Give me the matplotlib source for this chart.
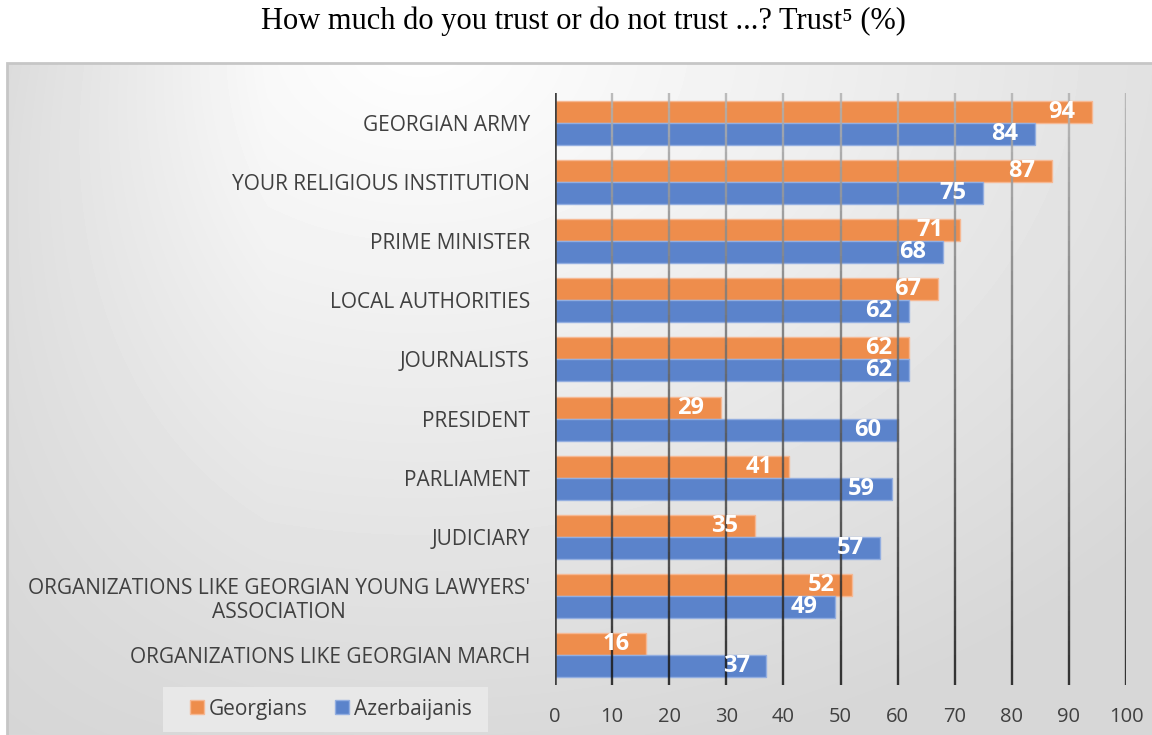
import matplotlib
matplotlib.use('Agg')
import matplotlib.pyplot as plt
import matplotlib.patches as mpatches
from matplotlib.collections import LineCollection
import matplotlib.transforms as mtransforms
import numpy as np

CATEGORIES = [
    'GEORGIAN ARMY',
    'YOUR RELIGIOUS INSTITUTION',
    'PRIME MINISTER',
    'LOCAL AUTHORITIES',
    'JOURNALISTS',
    'PRESIDENT',
    'PARLIAMENT',
    'JUDICIARY',
    "ORGANIZATIONS LIKE GEORGIAN YOUNG LAWYERS'\nASSOCIATION",
    'ORGANIZATIONS LIKE GEORGIAN MARCH',
]
GEORGIANS = [94, 87, 71, 67, 62, 29, 41, 35, 52, 16]
AZERBAIJANIS = [84, 75, 68, 62, 62, 60, 59, 57, 49, 37]
XTICKS = [0, 10, 20, 30, 40, 50, 60, 70, 80, 90, 100]

ORANGE = '#EE8D4C'
BLUE = '#5B83CB'
TEXT = '#404040'

plt.rcParams['font.family'] = ['Open Sans', 'DejaVu Sans']

W, H = 1152, 735
fig = plt.figure(figsize=(W / 100, H / 100), dpi=100)

# gradient background (white near top middle, grey towards edges)
bg = fig.add_axes([0, 0, 1, 1], zorder=-10)
yy, xx = np.mgrid[0:H, 0:W]
d = np.sqrt(((xx - 420) / 1.0) ** 2 + ((yy - 40) / 0.75) ** 2)
shade = np.clip(1.0 - d / 1000 * 0.16, 0.84, 1.0)
left_fade = np.clip((xx - 7) / 260, 0, 1)
shade = shade - (1 - left_fade) * 0.08 * (1 - yy / H)
shade[yy < 63] = 1.0
shade[xx < 7] = 1.0
bg.imshow(shade, cmap='gray', vmin=0, vmax=1, aspect='auto', interpolation='bilinear')
bg.set_axis_off()

fig.patches.append(mpatches.Rectangle((7 / W, -0.01), 1.0, 1 - 63 / H + 0.01,
                                      transform=fig.transFigure, fill=False,
                                      edgecolor='#c6c6c6', linewidth=2, zorder=-5))
# legend box
fig.patches.append(mpatches.Rectangle((163 / W, 1 - 732 / H), 325 / W, 45 / H,
                                      transform=fig.transFigure, facecolor='#e8e8e8',
                                      edgecolor='none', zorder=-4))

ax = fig.add_axes([555 / W, 1 - 685 / H, 571 / W, 592 / H])
ax.patch.set_alpha(0)

y = np.arange(len(CATEGORIES))
h = 0.37
ax.barh(y - h / 2, GEORGIANS, height=h, color=ORANGE, edgecolor='#F6B893',
        linewidth=1, label='Georgians', zorder=2)
ax.barh(y + h / 2, AZERBAIJANIS, height=h, color=BLUE, edgecolor='#93AEE0',
        linewidth=1, label='Azerbaijanis', zorder=2)

for yi, g, a in zip(y, GEORGIANS, AZERBAIJANIS):
    ax.annotate(str(g), (g, yi - h / 2), xytext=(-12, 0), textcoords='offset points',
                ha='right', va='center', color='white', fontsize=17, fontweight='bold', zorder=4)
    ax.annotate(str(a), (a, yi + h / 2), xytext=(-12, 0), textcoords='offset points',
                ha='right', va='center', color='white', fontsize=17, fontweight='bold', zorder=4)

ax.set_xlim(0, 100)
ax.set_ylim(len(CATEGORIES) - 0.5, -0.5)
ax.set_xticks(XTICKS)
ax.set_yticks(y)
ax.set_yticklabels(CATEGORIES, multialignment='center')
ax.tick_params(axis='y', length=0, pad=18, labelsize=15, labelcolor=TEXT)
ax.tick_params(axis='x', length=0, pad=16, labelsize=14.5, labelcolor=TEXT)

# vertical gridlines that fade from light grey at the top to near black at the bottom
trans = mtransforms.blended_transform_factory(ax.transData, ax.transAxes)
n = 40
fr = np.linspace(0, 1, n + 1)
segs, cols = [], []
for t in XTICKS[1:]:
    for i in range(n):
        segs.append([(t, fr[i]), (t, fr[i + 1])])
        g = 0.08 + 0.62 * (fr[i] + fr[i + 1]) / 2
        cols.append((g, g, g, 0.85))
ax.add_collection(LineCollection(segs, colors=cols, linewidths=1.7, transform=trans, zorder=3))
ax.axvline(0, color='#404040', linewidth=2.6, zorder=5)
for s in ax.spines.values():
    s.set_visible(False)

leg = fig.legend(loc='center', bbox_to_anchor=(331 / W, 1 - 709 / H), ncol=2,
                 fontsize=15, frameon=False, handlelength=0.67,
                 handleheight=0.67, handletextpad=0.25, columnspacing=1.3,
                 borderpad=0)
for t in leg.get_texts():
    t.set_color(TEXT)

fig.text(583 / W, 1 - 21 / H, 'How much do you trust or do not trust ...? Trust\u2075 (%)',
         ha='center', va='center', fontsize=22, family=['Liberation Serif', 'DejaVu Serif'],
         color='black')

fig.savefig('out.png', dpi=100)
